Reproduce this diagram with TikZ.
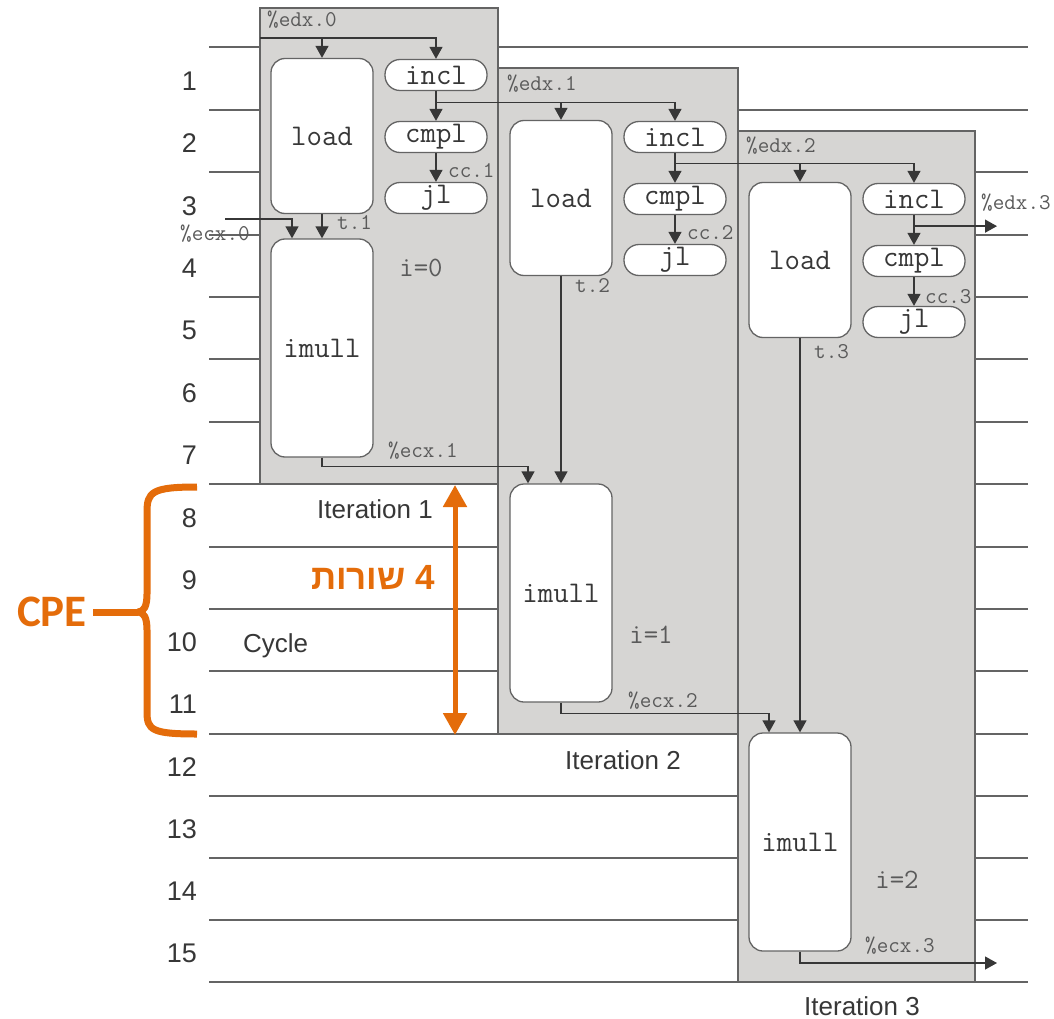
\documentclass[tikz,border=0pt]{standalone}
\usepackage{fontspec}
\setmainfont{Liberation Sans}
\newfontfamily\hebfont[Script=Hebrew]{Liberation Sans}
\newfontfamily\cpefont{Carlito}
\TeXXeTstate=1
\usetikzlibrary{arrows.meta, positioning, calc}

\definecolor{boxgray}{RGB}{214,213,211}
\definecolor{linegray}{RGB}{100,100,100}
\definecolor{inkgray}{RGB}{55,55,55}
\definecolor{labelgray}{RGB}{90,90,90}
\definecolor{cpeorange}{RGB}{228,108,10}

\tikzset{
  cycleline/.style={draw=linegray, line width=1.4pt},
  iterbox/.style={draw=linegray, fill=boxgray, line width=1.4pt},
  opbox/.style={draw=linegray, fill=white, line width=1.3pt, rounded corners=14pt, minimum width=102pt, inner sep=0pt, text=inkgray, font=\ttfamily\fontsize{30}{30}\selectfont},
  tallop/.style={opbox, minimum height=155pt},
  mulop/.style={opbox, minimum height=218pt},
  pillop/.style={opbox, minimum height=31pt, rounded corners=15pt},
  reg/.style={text=labelgray, inner sep=0pt, anchor=base west, font=\ttfamily\fontsize{22.5}{22.5}\selectfont},
  idx/.style={text=labelgray, inner sep=0pt, anchor=base, font=\ttfamily\fontsize{28}{28}\selectfont},
  rownum/.style={text=inkgray, inner sep=0pt, anchor=east, font=\fontsize{27}{27}\selectfont},
  itertext/.style={text=inkgray, inner sep=0pt, anchor=base west, font=\fontsize{26}{26}\selectfont},
  flow/.style={draw=inkgray, line width=1.3pt, -{Triangle[width=13pt,length=12pt]}},
  cpemark/.style={draw=cpeorange, line width=7pt},
}

\begin{document}
\begin{tikzpicture}[x=1pt, y=-1pt]
\useasboundingbox (0,0) rectangle (1054,1019);

% Cycle lines
\draw[cycleline] (209,47) -- (1028,47);
\draw[cycleline] (209,110) -- (1028,110);
\draw[cycleline] (209,172) -- (1028,172);
\draw[cycleline] (209,235) -- (1028,235);
\draw[cycleline] (209,297) -- (1028,297);
\draw[cycleline] (209,359) -- (1028,359);
\draw[cycleline] (209,422) -- (1028,422);
\draw[cycleline] (209,484) -- (1028,484);
\draw[cycleline] (209,547) -- (1028,547);
\draw[cycleline] (209,609) -- (1028,609);
\draw[cycleline] (209,671) -- (1028,671);
\draw[cycleline] (209,734) -- (1028,734);
\draw[cycleline] (209,796) -- (1028,796);
\draw[cycleline] (209,858) -- (1028,858);
\draw[cycleline] (209,920) -- (1028,920);
\draw[cycleline] (209,982) -- (1028,982);

% Cycle numbers
\node[rownum] (r1) at (197,81) {1};
\node[rownum] (r2) at (197,143) {2};
\node[rownum] (r3) at (197,206) {3};
\node[rownum] (r4) at (197,268) {4};
\node[rownum] (r5) at (197,330) {5};
\node[rownum] (r6) at (197,393) {6};
\node[rownum] (r7) at (197,455) {7};
\node[rownum] (r8) at (197,518) {8};
\node[rownum] (r9) at (197,580) {9};
\node[rownum] (r10) at (197,642) {10};
\node[rownum] (r11) at (197,704) {11};
\node[rownum] (r12) at (197,767) {12};
\node[rownum] (r13) at (197,829) {13};
\node[rownum] (r14) at (197,891) {14};
\node[rownum] (r15) at (197,953) {15};

% Iteration boxes
\draw[iterbox] (260,8) rectangle (498,484);
\draw[iterbox] (498,68) rectangle (738,734);
\draw[iterbox] (738,131) rectangle (975,982);

% Iteration 1 (i=0)
\node[tallop] (load0) at (322,136) {load};
\node[pillop] (incl0) at (436,75) {incl};
\node[pillop] (cmpl0) at (436,137) {cmpl};
\node[pillop] (jl0) at (436,198) {jl};
\node[mulop] (imull0) at (322,348) {imull};

% Iteration 2 (i=1)
\node[tallop] (load1) at (561,198) {load};
\node[pillop] (incl1) at (675,137) {incl};
\node[pillop] (cmpl1) at (675,199) {cmpl};
\node[pillop] (jl1) at (675,260) {jl};
\node[mulop] (imull1) at (561,593) {imull};

% Iteration 3 (i=2)
\node[tallop] (load2) at (800,260) {load};
\node[pillop] (incl2) at (914,199) {incl};
\node[pillop] (cmpl2) at (914,261) {cmpl};
\node[pillop] (jl2) at (914,322) {jl};
\node[mulop] (imull2) at (800,842) {imull};

% Data flow
\coordinate (edx0) at (260,38);
\coordinate (ecx0) at (225,219);
\coordinate (edx3out) at (997,226);
\coordinate (ecx3out) at (997,963);
\path (incl0.south) -- (cmpl0.north) coordinate[pos=0.38] (edx1);
\path (incl1.south) -- (cmpl1.north) coordinate[pos=0.34] (edx2);
\path (incl2.south) -- (cmpl2.north) coordinate[pos=0.37] (edx3);

\draw[flow] (edx0) -| (incl0.north);
\draw[flow] (load0.north |- edx0) -- (load0.north);
\draw[flow] (incl0) -- (cmpl0);
\draw[flow] (cmpl0) -- (jl0);
\draw[flow] (load0) -- (imull0);
\draw[flow] (ecx0) -| ([xshift=-30pt]imull0.north);

\draw[flow] (edx1) -| (incl1.north);
\draw[flow] (load1.north |- edx1) -- (load1.north);
\draw[flow] (incl1) -- (cmpl1);
\draw[flow] (cmpl1) -- (jl1);
\draw[flow] (load1) -- (imull1);
\draw[flow] (imull0.south) -- ++(0,9) -| ([xshift=-33pt]imull1.north);

\draw[flow] (edx2) -| (incl2.north);
\draw[flow] (load2.north |- edx2) -- (load2.north);
\draw[flow] (incl2) -- (cmpl2);
\draw[flow] (cmpl2) -- (jl2);
\draw[flow] (load2) -- (imull2);
\draw[flow] (imull1.south) -- ++(0,11) -| ([xshift=-31pt]imull2.north);
\draw[flow] (edx3) -- (edx3 -| edx3out);
\draw[flow] (imull2.south) |- (ecx3out);

% Register labels
\node[reg] (ledx0) at (267,27) {\%edx.0};
\node[reg] (ledx1) at (507,91) {\%edx.1};
\node[reg] (ledx2) at (746,153) {\%edx.2};
\node[reg] (ledx3) at (981,209) {\%edx.3};
\node[reg] (lcc1) at (448,178) {cc.1};
\node[reg] (lcc2) at (687,239) {cc.2};
\node[reg] (lcc3) at (925,303) {cc.3};
\node[reg] (lt1) at (337,229) {t.1};
\node[reg] (lt2) at (575,292) {t.2};
\node[reg] (lt3) at (814,358) {t.3};
\node[reg] (lecx0) at (180,240) {\%ecx.0};
\node[reg] (lecx1) at (388,457) {\%ecx.1};
\node[reg] (lecx2) at (628,707) {\%ecx.2};
\node[reg] (lecx3) at (865,952) {\%ecx.3};
\node[idx] (i0) at (421,276) {i=0};
\node[idx] (i1) at (651,643) {i=1};
\node[idx] (i2) at (897,888) {i=2};

% Iteration and cycle captions
\node[itertext] (it1) at (317,518) {Iteration 1};
\node[itertext] (it2) at (565,769) {Iteration 2};
\node[itertext] (it3) at (804,1015) {Iteration 3};
\node[itertext] (cyc) at (243,652) {Cycle};

% CPE: brace, double arrow and labels
\coordinate (cpetop) at (455,485);
\coordinate (cpebot) at (455,735);
\coordinate (bracetip) at (138,612);
\draw[cpeorange, line width=5pt, {Triangle[width=23pt,length=22pt]}-{Triangle[width=23pt,length=22pt]}] (cpetop) -- (cpebot);
\draw[cpemark] (197,487) .. controls (152,487) and (147,492) .. (147,512) -- (147,594) .. controls (147,606) and (144,612) .. (bracetip);
\draw[cpemark] (bracetip) .. controls (144,612) and (147,618) .. (147,630) -- (147,712) .. controls (147,730) and (152,734) .. (197,734);
\node[font=\cpefont\bfseries\fontsize{45}{45}\selectfont, text=cpeorange, inner sep=0pt] (cpe) at (52,612) {CPE};
\draw[cpemark, shorten <=6pt] (cpe.east) -- (bracetip);
\node[font=\hebfont\bfseries\fontsize{35}{35}\selectfont, text=cpeorange, inner sep=0pt] (rows) at (373,578) {\beginR 4 שורות\endR};
\end{tikzpicture}
\end{document}
